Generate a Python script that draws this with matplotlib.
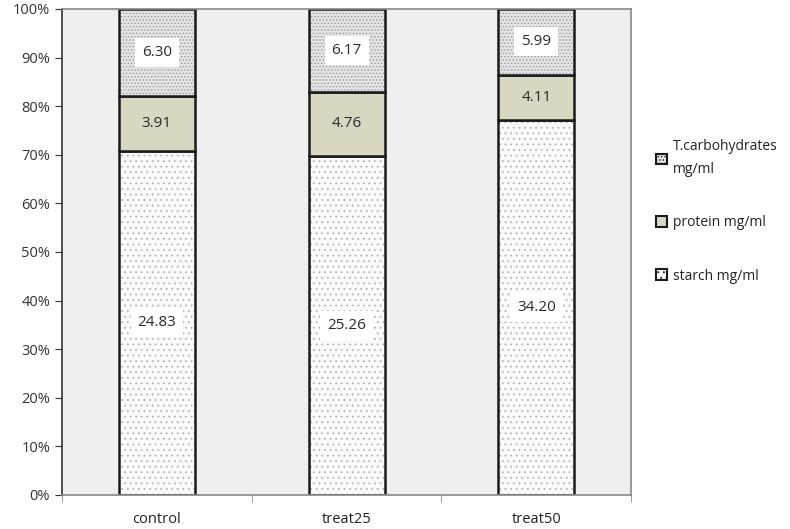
import matplotlib.pyplot as plt
import numpy as np
from matplotlib.patches import Patch

plt.rcParams['font.family'] = ['Open Sans', 'DejaVu Sans']
plt.rcParams['hatch.linewidth'] = 0.6

groups = ['control', 'treat25', 'treat50']
starch = [24.83, 25.26, 34.20]
protein = [3.91, 4.76, 4.11]
carbs = [6.30, 6.17, 5.99]

series = [
    ('starch mg/ml', starch, '#fafafa', '#b5b5b5', '...'),
    ('protein mg/ml', protein, '#d8d8c2', None, None),
    ('T.carbohydrates\nmg/ml', carbs, '#e4e4e4', '#9a9a9a', '.....'),
]

totals = np.array(starch) + np.array(protein) + np.array(carbs)

fig = plt.figure(figsize=(7.9, 5.29), dpi=100)
ax = fig.add_axes([0.0785, 0.0643, 0.7205, 0.9187])
ax.set_facecolor('#efefef')

x = np.arange(len(groups))
w = 0.4
bottom = np.zeros(len(groups))
handles = []
for name, vals, fc, hc, hatch in series:
    pct = np.array(vals) / totals * 100
    if hatch:
        ax.bar(x, pct, w, bottom=bottom, color=fc, edgecolor=hc, hatch=hatch, linewidth=0)
    else:
        ax.bar(x, pct, w, bottom=bottom, color=fc, linewidth=0)
    ax.bar(x, pct, w, bottom=bottom, fill=False, edgecolor='#1a1a1a', linewidth=1.8)
    for xi, b, p, v in zip(x, bottom, pct, vals):
        ax.text(xi, b + p / 2, '%.2f' % v, ha='center', va='center', fontsize=11,
                color='#2a2a2a',
                bbox=dict(facecolor='white', edgecolor='none', pad=5 if hatch else 0,
                          alpha=1 if hatch else 0))
    handles.append(Patch(facecolor=fc, edgecolor='#1a1a1a', hatch=hatch, linewidth=1.5, label=name))
    bottom += pct

ax.set_xlim(-0.5, 2.5)
ax.set_ylim(0, 100)
ax.set_yticks(np.arange(0, 101, 10))
ax.set_yticklabels(['%d%%' % v for v in range(0, 101, 10)], fontsize=10.5, color='#333333')
ax.set_xticks(x)
ax.set_xticklabels(groups, fontsize=10.5, color='#222222')
ax.tick_params(axis='x', length=0, pad=12)
ax.set_xticks([-0.5, 0.5, 1.5, 2.5], minor=True)
ax.tick_params(axis='x', which='minor', length=5, color='#888888')
ax.tick_params(axis='y', length=5, color='#333333')

ax.spines['left'].set_color('#333333')
ax.spines['bottom'].set_color('#888888')
ax.spines['top'].set_color('#888888')
ax.spines['right'].set_color('#888888')
for s in ax.spines.values():
    s.set_linewidth(1.2)

leg = fig.legend(handles[::-1], [h.get_label() for h in handles[::-1]],
                 loc='upper left', bbox_to_anchor=(0.815, 0.76), frameon=False,
                 fontsize=10, handlelength=0.8, handleheight=0.8, handletextpad=0.4,
                 labelspacing=2.75)
for t in leg.get_texts():
    t.set_linespacing(1.7)
    t.set_color('#222222')

fig.savefig('out.png', dpi=100)
